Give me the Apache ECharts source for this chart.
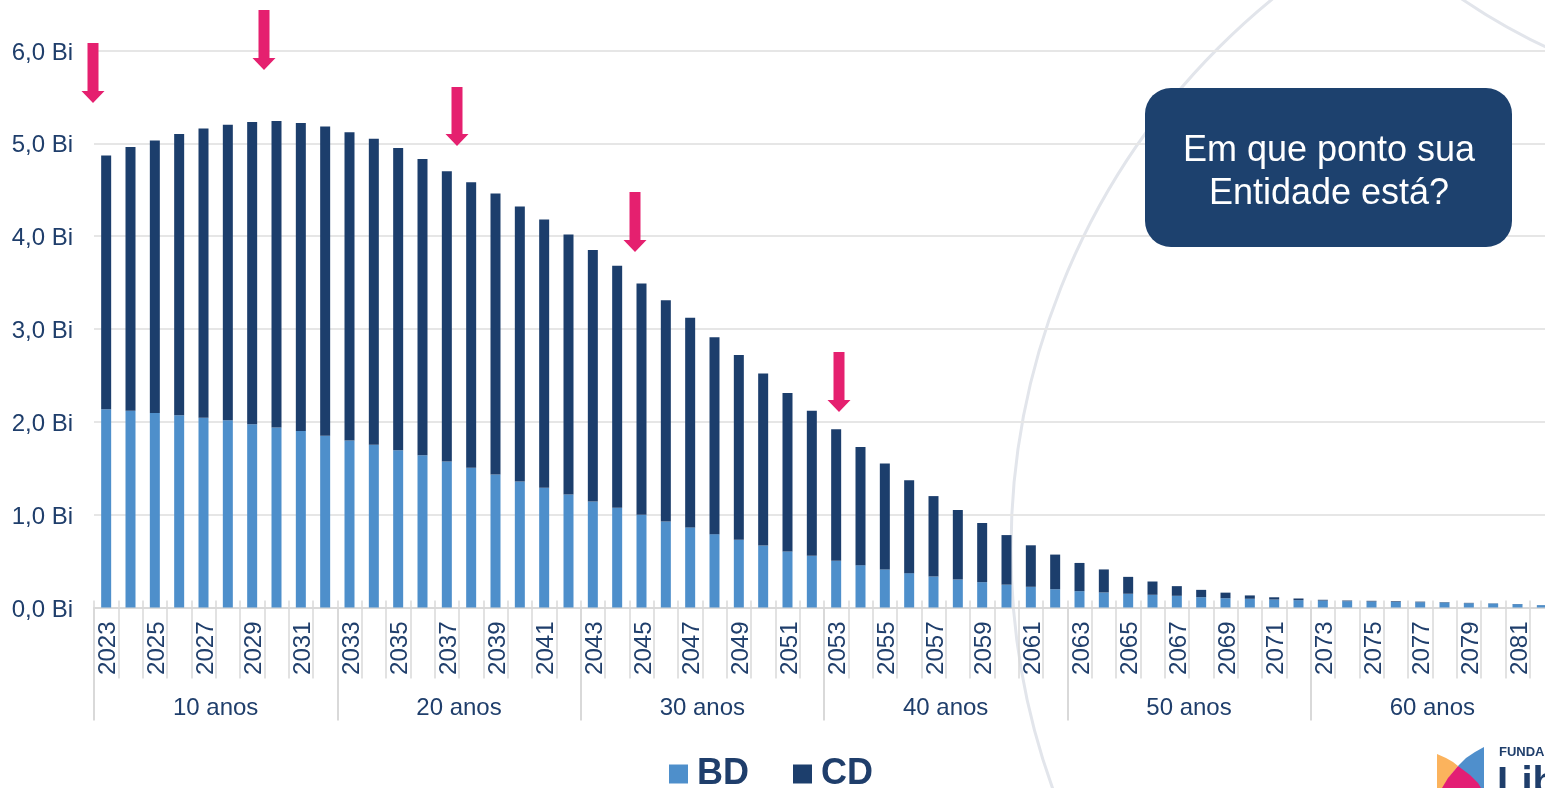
<!DOCTYPE html>
<html>
<head>
<meta charset="utf-8">
<script src="https://cdn.jsdelivr.net/npm/echarts@6/dist/echarts.min.js"></script>
<style>
html,body{margin:0;padding:0;background:#fff;overflow:hidden;width:1545px;height:788px;}
#chart{width:1554px;height:788px;}
</style>
</head>
<body>
<div id="chart"></div>
<script>
const years = ['2023','2024','2025','2026','2027','2028','2029','2030','2031','2032',
  '2033','2034','2035','2036','2037','2038','2039','2040','2041','2042',
  '2043','2044','2045','2046','2047','2048','2049','2050','2051','2052',
  '2053','2054','2055','2056','2057','2058','2059','2060','2061','2062',
  '2063','2064','2065','2066','2067','2068','2069','2070','2071','2072',
  '2073','2074','2075','2076','2077','2078','2079','2080','2081','2082'];
const groupLabels = ['10 anos','20 anos','30 anos','40 anos','50 anos','60 anos'];
const bdValues = [2.135,2.12,2.095,2.07,2.045,2.016,1.973,1.94,1.90,1.85,
  1.80,1.754,1.693,1.64,1.574,1.506,1.434,1.358,1.29,1.218,
  1.143,1.075,0.999,0.927,0.863,0.79,0.73,0.668,0.604,0.557,
  0.503,0.456,0.41,0.37,0.334,0.302,0.273,0.246,0.223,0.197,
  0.176,0.162,0.148,0.137,0.126,0.111,0.10,0.094,0.086,0.079,
  0.075,0.068,0.065,0.061,0.057,0.054,0.046,0.043,0.036,0.025];
const cdValues = [2.735,2.84,2.935,3.03,3.115,3.184,3.257,3.30,3.32,3.33,
  3.32,3.296,3.257,3.19,3.126,3.074,3.026,2.962,2.89,2.80,
  2.707,2.605,2.49,2.383,2.257,2.12,1.99,1.852,1.706,1.563,
  1.417,1.274,1.14,1.00,0.866,0.748,0.637,0.534,0.447,0.373,
  0.304,0.248,0.182,0.143,0.104,0.079,0.06,0.036,0.024,0.018,
  0.008,0.007,0.007,0.007,0.006,0.004,0.004,0.002,0.002,0.001];
const seriesNames = ['BD','CD'];
const calloutText = 'Em que ponto sua\nEntidade está?';

const NAVY_TEXT = '#1F3E6B';
const BD_COLOR = '#4E8FCB';
const CD_COLOR = '#1C3E6C';
const PINK = '#E5206F';
const FONT = "'Liberation Sans', Arial, sans-serif";
const TICK = '#D9D9D9';

function arrow(cx, top, tip){
  const sw = 5.5, hw = 11.5, hh = 12;
  return {
    type:'polygon', z:50,
    shape:{points:[[cx-sw,top],[cx+sw,top],[cx+sw,tip-hh],[cx+hw,tip-hh],[cx,tip],[cx-hw,tip-hh],[cx-sw,tip-hh]]},
    style:{fill:PINK}
  };
}

const chart = echarts.init(document.getElementById('chart'), null, {renderer:'canvas'});
const option = {
  backgroundColor:'#ffffff',
  animation:false,
  textStyle:{fontFamily:FONT},
  grid:{left:94, top:50.5, width:1460, height:557, containLabel:false},
  legend:{
    data:seriesNames,
    left:669, top:756, padding:0,
    icon:'rect', itemWidth:19, itemHeight:19, itemGap:44,
    textStyle:{fontFamily:FONT, fontSize:36, fontWeight:'bold', color:NAVY_TEXT, padding:[0,0,0,4]}
  },
  xAxis:[
    {
      type:'category', data:years, position:'bottom', boundaryGap:true,
      axisLine:{show:true, lineStyle:{color:TICK, width:2}},
      axisTick:{show:true, interval:0, length:71, lineStyle:{color:TICK, width:1.5}},
      axisLabel:{interval:1, rotate:90, margin:14, fontSize:24, color:NAVY_TEXT, fontFamily:FONT,
        verticalAlign:'top', lineHeight:5},
      splitLine:{show:false}
    },
    {
      type:'category', data:groupLabels, position:'bottom', boundaryGap:true,
      axisLine:{show:false},
      axisTick:{show:true, interval:0, length:113, lineStyle:{color:TICK, width:2}},
      axisLabel:{interval:0, margin:89, fontSize:24, color:NAVY_TEXT, fontFamily:FONT},
      splitLine:{show:false}
    },
    {
      type:'category', data:years, position:'bottom', boundaryGap:true,
      axisLine:{show:false},
      axisTick:{show:true, inside:true, interval:0, length:7, lineStyle:{color:TICK, width:1.5}},
      axisLabel:{show:false},
      splitLine:{show:false}
    }
  ],
  yAxis:{
    type:'value', min:0, max:6, interval:1,
    axisLine:{show:false}, axisTick:{show:false},
    axisLabel:{margin:21, fontSize:24, color:NAVY_TEXT, fontFamily:FONT, verticalAlign:'top', lineHeight:5,
      formatter:v => v.toFixed(1).replace('.', ',') + ' Bi'},
    splitLine:{show:true, lineStyle:{color:'#E6E6E6', width:2}}
  },
  series:[
    {name:seriesNames[0], type:'bar', stack:'total', data:bdValues, barWidth:10,
      itemStyle:{color:BD_COLOR}, z:3},
    {name:seriesNames[1], type:'bar', stack:'total', data:cdValues, barWidth:10,
      itemStyle:{color:CD_COLOR}, z:3}
  ],
  graphic:[
    {type:'circle', z:-10, silent:true, shape:{cx:1720, cy:549, r:709},
      style:{fill:'none', stroke:'#E2E5EB', lineWidth:3}},
    {type:'circle', z:-10, silent:true, shape:{cx:1812, cy:-514, r:621},
      style:{fill:'none', stroke:'#E2E5EB', lineWidth:3}},
    {type:'rect', z:60, shape:{x:1145, y:88, width:367, height:159, r:26},
      style:{fill:'#1D416E'}},
    {type:'text', z:61, x:1329, y:172.5,
      style:{text:calloutText, fill:'#ffffff', font:"36px 'Liberation Sans', Arial, sans-serif",
        textAlign:'center', textVerticalAlign:'middle', lineHeight:43}},
    arrow(93, 43, 103),
    arrow(264, 10, 70),
    arrow(457, 87, 146),
    arrow(635, 192, 252),
    arrow(839, 352, 412),
    {type:'polygon', z:70, shape:{points:[[1458,766],[1466,758],[1475,752],[1484,747],[1484,788],[1470,788]]}, style:{fill:'#4F8FCC'}},
    {type:'polygon', z:70, shape:{points:[[1437,754],[1446,758],[1453,762],[1458,766],[1450,776],[1443,788],[1437,788]]}, style:{fill:'#FBB35D'}},
    {type:'polygon', z:71, shape:{points:[[1458,766],[1470,775],[1478,783],[1481,788],[1442,788],[1448,778]]}, style:{fill:'#E31E74'}},
    {type:'text', z:72, x:1499, y:746,
      style:{text:'FUNDAÇÃO', fill:NAVY_TEXT, font:"bold 13px 'Liberation Sans', Arial, sans-serif", textVerticalAlign:'top'}},
    {type:'text', z:72, x:1497, y:764,
      style:{text:'Libertas', fill:NAVY_TEXT, font:"bold 40px 'Liberation Sans', Arial, sans-serif", textVerticalAlign:'top'}}
  ]
};
chart.setOption(option);
</script>
</body>
</html>
